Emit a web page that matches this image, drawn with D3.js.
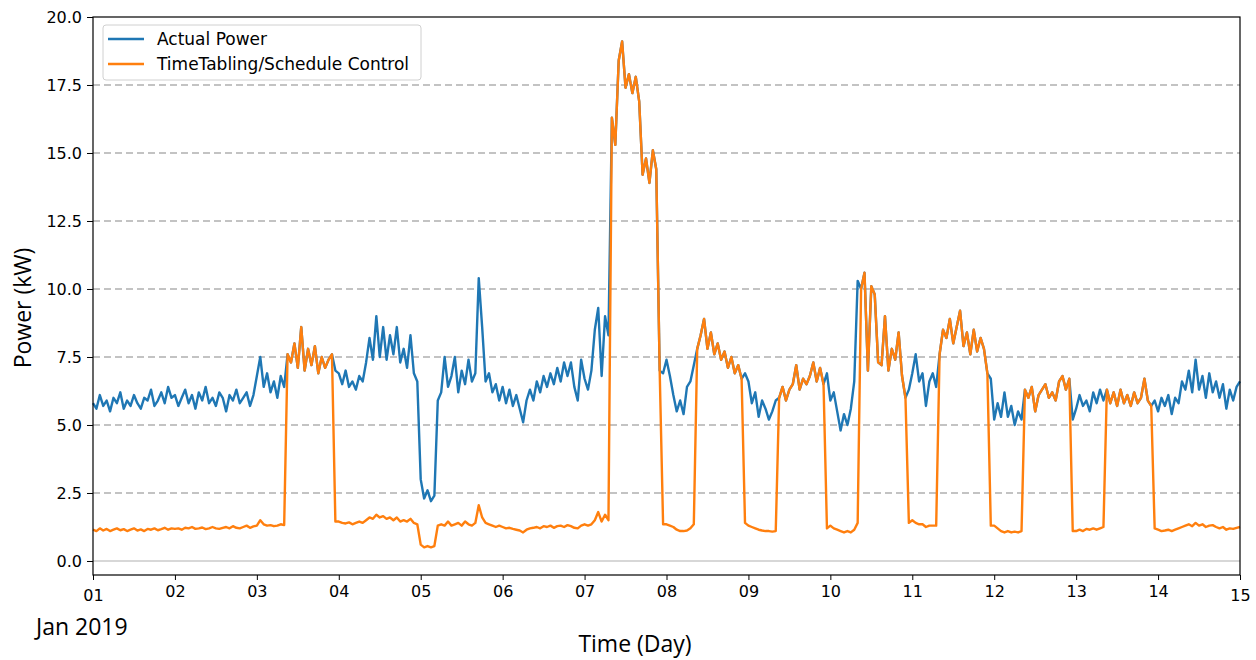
<!DOCTYPE html>
<html>
<head>
<meta charset="utf-8">
<script src="https://cdn.jsdelivr.net/npm/d3@7"></script>
<style>
  body { margin: 0; background: #fff; }
  svg { display: block; }
  .tick text { font-family: "DejaVu Sans", sans-serif; font-size: 16px; fill: #000; }
  .label { font-family: "Open Sans", sans-serif; fill: #000; }
</style>
</head>
<body>
<div id="chart"></div>
<script>
// hourly readings, 2019-01-01 00:00 -> 2019-01-15 00:00
var startTime = new Date(2019, 0, 1, 0, 0);
var endTime = new Date(2019, 0, 15, 0, 0);

var actualKW = [
  5.8,5.6,6.1,5.7,5.9,5.5,6.0,5.8,6.2,5.6,5.9,5.7,6.1,5.8,5.6,6.0,5.9,6.3,5.7,5.9,6.2,5.8,6.4,6.0,
  6.1,5.7,6.0,6.3,5.8,6.1,5.6,6.2,5.9,6.4,5.8,6.0,5.7,6.2,6.0,5.5,6.1,5.9,6.3,5.8,6.0,6.2,5.7,6.1,
  6.8,7.5,6.4,6.9,6.2,6.6,6.0,6.8,6.4,7.6,7.3,8.0,7.1,8.6,7.0,7.8,7.2,7.9,6.9,7.5,7.1,7.4,7.6,7.0,
  6.9,6.5,7.0,6.4,6.6,6.3,6.8,6.6,7.3,8.2,7.4,9.0,7.5,8.6,7.4,8.3,7.6,8.6,7.3,7.8,7.1,8.3,6.9,6.6,
  3.0,2.3,2.6,2.2,2.4,5.9,6.2,7.5,6.4,6.8,7.5,6.2,7.0,6.5,7.4,6.6,6.9,10.4,8.6,6.6,6.9,6.2,6.5,5.9,
  6.4,5.8,6.3,5.7,6.1,5.6,5.1,5.9,6.3,5.9,6.6,6.2,6.8,6.4,6.9,6.5,7.1,6.6,7.3,6.8,7.3,6.4,5.9,7.4,
  6.7,6.3,7.0,8.5,9.3,6.8,9.0,8.3,16.3,15.3,18.4,19.1,17.4,17.9,17.2,17.8,16.9,14.2,14.8,13.9,15.1,14.4,7.0,6.9,
  7.4,6.8,6.1,5.5,5.9,5.4,6.4,6.6,7.2,7.8,8.3,8.9,7.8,8.4,7.6,8.0,7.4,7.7,7.1,7.5,6.9,7.2,6.7,6.9,
  6.6,5.8,6.2,5.3,5.9,5.6,5.2,5.5,5.9,6.0,6.4,5.9,6.3,6.5,7.2,6.3,6.7,6.5,6.8,7.3,6.6,7.1,6.5,6.9,
  5.9,6.2,5.5,4.8,5.4,5.0,5.6,6.6,10.3,10.0,10.6,7.0,10.1,9.8,7.3,7.2,9.0,7.0,7.8,7.4,8.4,6.8,6.0,6.3,
  6.9,7.6,6.6,6.9,5.7,6.6,6.9,6.4,7.6,8.5,8.2,8.9,8.0,8.6,9.2,7.9,8.4,7.6,8.5,7.7,8.2,7.8,6.9,6.7,
  5.2,5.8,5.3,6.2,5.3,5.7,5.0,5.5,5.2,6.3,6.0,6.4,5.5,6.1,6.3,6.5,6.0,6.2,5.9,6.6,6.8,6.3,6.7,5.2,
  5.6,6.1,5.7,5.9,5.5,6.2,5.8,6.3,5.9,6.3,5.8,6.2,5.7,6.3,5.8,6.1,5.7,6.2,5.8,6.0,6.7,5.9,5.7,5.9,
  5.5,6.0,5.7,6.1,5.4,6.0,5.8,6.6,6.3,7.0,6.2,7.4,6.3,6.8,6.0,6.9,6.2,6.6,6.0,6.5,5.6,6.3,5.9,6.4,
  6.6
];

var scheduledKW = [
  1.15,1.10,1.20,1.12,1.18,1.10,1.15,1.20,1.13,1.17,1.10,1.15,1.20,1.12,1.16,1.10,1.18,1.15,1.20,1.13,1.17,1.22,1.15,1.20,
  1.18,1.20,1.15,1.22,1.20,1.25,1.18,1.20,1.23,1.17,1.20,1.25,1.20,1.18,1.22,1.25,1.20,1.28,1.22,1.20,1.25,1.30,1.22,1.27,
  1.30,1.50,1.35,1.30,1.32,1.28,1.30,1.35,1.32,7.6,7.3,8.0,7.1,8.6,7.0,7.8,7.2,7.9,6.9,7.5,7.1,7.4,7.6,1.45,
  1.45,1.40,1.38,1.42,1.35,1.40,1.45,1.40,1.50,1.60,1.55,1.70,1.60,1.65,1.55,1.60,1.50,1.60,1.45,1.50,1.45,1.55,1.40,1.35,
  0.60,0.50,0.55,0.50,0.55,1.30,1.35,1.30,1.45,1.30,1.35,1.40,1.30,1.45,1.35,1.30,1.40,2.05,1.60,1.40,1.35,1.30,1.25,1.30,
  1.25,1.20,1.22,1.18,1.15,1.12,1.05,1.15,1.20,1.22,1.25,1.20,1.28,1.25,1.30,1.22,1.28,1.30,1.25,1.32,1.28,1.22,1.20,1.30,
  1.35,1.30,1.35,1.50,1.80,1.45,1.70,1.50,16.3,15.3,18.4,19.1,17.4,17.9,17.2,17.8,16.9,14.2,14.8,13.9,15.1,14.4,7.0,1.35,
  1.35,1.30,1.25,1.15,1.10,1.10,1.12,1.20,1.35,7.8,8.3,8.9,7.8,8.4,7.6,8.0,7.4,7.7,7.1,7.5,6.9,7.2,6.7,1.40,
  1.30,1.25,1.20,1.15,1.12,1.10,1.10,1.08,1.10,6.0,6.4,5.9,6.3,6.5,7.2,6.3,6.7,6.5,6.8,7.3,6.6,7.1,6.5,1.20,
  1.30,1.20,1.15,1.10,1.05,1.10,1.05,1.15,1.40,10.0,10.6,7.0,10.1,9.8,7.3,7.2,9.0,7.0,7.8,7.4,8.4,6.8,6.0,1.40,
  1.50,1.40,1.35,1.35,1.25,1.30,1.30,1.30,7.6,8.5,8.2,8.9,8.0,8.6,9.2,7.9,8.4,7.6,8.5,7.7,8.2,7.8,6.9,1.30,
  1.30,1.20,1.10,1.05,1.10,1.05,1.08,1.05,1.10,6.3,6.0,6.4,5.5,6.1,6.3,6.5,6.0,6.2,5.9,6.6,6.8,6.3,6.7,1.10,
  1.10,1.15,1.10,1.18,1.15,1.20,1.15,1.20,1.25,6.3,5.8,6.2,5.7,6.3,5.8,6.1,5.7,6.2,5.8,6.0,6.7,5.9,5.7,1.20,
  1.15,1.10,1.12,1.15,1.10,1.15,1.20,1.25,1.30,1.35,1.28,1.40,1.30,1.35,1.25,1.30,1.32,1.25,1.20,1.25,1.15,1.20,1.18,1.22,
  1.25
];

var yTicks = [0, 2.5, 5, 7.5, 10, 12.5, 15, 17.5, 20];
var seriesNames = ["Actual Power", "TimeTabling/Schedule Control"];
var seriesColors = ["#1f77b4", "#ff7f0e"];

var W = 1256, H = 660;
var margin = { top: 17, right: 16, bottom: 85, left: 93 };

var svg = d3.select("#chart").append("svg")
    .attr("width", W)
    .attr("height", H);

var x = d3.scaleTime()
    .domain([startTime, endTime])
    .range([margin.left, W - margin.right]);

var y = d3.scaleLinear()
    .domain([-0.515, 20])
    .range([H - margin.bottom, margin.top]);

function toPoints(values) {
    return values.map(function(v, i) {
        return { t: d3.timeHour.offset(startTime, i), v: v };
    });
}

// grid
svg.append("g")
    .selectAll("line")
    .data(yTicks.filter(function(d) { return d > 0 && d < 20; }))
    .join("line")
    .attr("x1", margin.left)
    .attr("x2", W - margin.right)
    .attr("y1", function(d) { return y(d); })
    .attr("y2", function(d) { return y(d); })
    .attr("stroke", "#878787")
    .attr("stroke-width", 1.2)
    .attr("stroke-dasharray", "7,4");

svg.append("line")
    .attr("x1", margin.left)
    .attr("x2", W - margin.right)
    .attr("y1", y(0))
    .attr("y2", y(0))
    .attr("stroke", "#b0b0b0")
    .attr("stroke-width", 1.2);

// series
var line = d3.line()
    .x(function(d) { return x(d.t); })
    .y(function(d) { return y(d.v); });

[actualKW, scheduledKW].forEach(function(values, i) {
    svg.append("path")
        .datum(toPoints(values))
        .attr("fill", "none")
        .attr("stroke", seriesColors[i])
        .attr("stroke-width", 2.4)
        .attr("stroke-linejoin", "round")
        .attr("d", line);
});

// axes
var yAxis = svg.append("g")
    .attr("transform", "translate(" + margin.left + ",0)")
    .call(d3.axisLeft(y).tickValues(yTicks).tickFormat(d3.format(".1f")).tickSizeOuter(0).tickSize(6).tickPadding(5));
yAxis.select(".domain").remove();

var xAxis = svg.append("g")
    .attr("transform", "translate(0," + (H - margin.bottom) + ")")
    .call(d3.axisBottom(x).ticks(d3.timeDay.every(1)).tickFormat(d3.timeFormat("%d")).tickSizeOuter(0).tickSize(5).tickPadding(6));
xAxis.select(".domain").remove();
xAxis.selectAll(".tick text")
    .attr("dy", function(d) {
        return (+d === +startTime || +d === +endTime) ? "0.95em" : "0.71em";
    });

// frame
svg.append("rect")
    .attr("x", margin.left)
    .attr("y", margin.top)
    .attr("width", W - margin.left - margin.right)
    .attr("height", H - margin.top - margin.bottom)
    .attr("fill", "none")
    .attr("stroke", "#000")
    .attr("stroke-width", 1.2);

// labels
svg.append("text")
    .attr("class", "label")
    .attr("x", 36)
    .attr("y", 635)
    .attr("font-size", 23)
    .text("Jan 2019");

svg.append("text")
    .attr("class", "label")
    .attr("x", 635)
    .attr("y", 652)
    .attr("text-anchor", "middle")
    .attr("font-size", 23)
    .text("Time (Day)");

svg.append("text")
    .attr("class", "label")
    .attr("transform", "translate(31,308) rotate(-90)")
    .attr("text-anchor", "middle")
    .attr("font-size", 23)
    .text("Power (kW)");

// legend
var legend = svg.append("g").attr("transform", "translate(103,25)");
legend.append("rect")
    .attr("width", 318)
    .attr("height", 55)
    .attr("rx", 3)
    .attr("fill", "#fff")
    .attr("fill-opacity", 0.8)
    .attr("stroke", "#d0d0d0");
seriesNames.forEach(function(name, i) {
    var g = legend.append("g").attr("transform", "translate(0," + (14 + i * 25) + ")");
    g.append("line")
        .attr("x1", 5).attr("x2", 41)
        .attr("stroke", seriesColors[i])
        .attr("stroke-width", 2.4);
    g.append("text")
        .attr("x", 54)
        .attr("y", 6)
        .style("font-family", "'DejaVu Sans', sans-serif")
        .style("font-size", "17px")
        .text(name);
});
</script>
</body>
</html>
